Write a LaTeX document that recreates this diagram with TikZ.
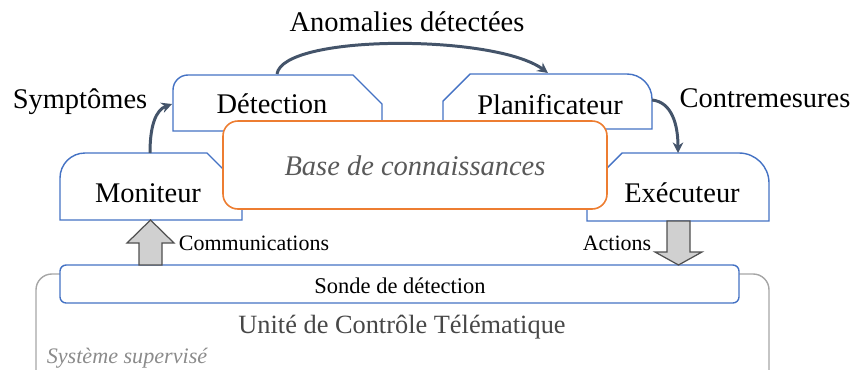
\documentclass[tikz,border=0pt]{standalone}
\usepackage{fontspec}
\setmainfont{Liberation Serif}
\usetikzlibrary{arrows.meta}
\definecolor{bblue}{HTML}{4472C4}
\definecolor{borange}{HTML}{ED7D31}
\definecolor{conn}{HTML}{44546A}
\definecolor{lgray}{HTML}{A6A6A6}
\definecolor{tgray}{HTML}{595959}
\definecolor{afill}{HTML}{D0D0D0}
\definecolor{aline}{HTML}{505050}
\begin{document}
\begin{tikzpicture}[x=0.02cm,y=-0.02cm,
  blk/.style={draw=bblue,line width=0.8pt,fill=white},
  kb/.style={draw=borange,line width=0.9pt,fill=white,rounded corners=8.5pt},
  conn/.style={draw=conn,line width=1.7pt,-{Stealth[length=6pt,width=6pt]}},
  barrow/.style={draw=aline,fill=afill,line width=0.7pt},
  big/.style={inner sep=0pt,anchor=base,font=\fontsize{16.2}{19}\selectfont},
  small/.style={inner sep=0pt,anchor=base,font=\fontsize{12.5}{15}\selectfont}]
\useasboundingbox (0,0) rectangle (852,369);
% outer supervised system box
\begin{scope}
\clip (0,0) rectangle (852,369);
\draw[lgray,line width=0.8pt,rounded corners=9pt] (36,395) -- (36,274) -- (769,274) -- (769,395);
\end{scope}
% Détection
\draw[blk] (173,131) -- (173,90) arc[start angle=180,end angle=270,radius=15] -- (353,75) -- (382,104) -- (382,131) -- cycle;
% Planificateur
\draw[blk] (443,129) -- (443,101) -- (470,74) -- (627,74) arc[start angle=270,end angle=360,radius=25] -- (652,129) -- cycle;
% Moniteur
\draw[blk] (60,220) -- (60,178) arc[start angle=180,end angle=270,radius=25] -- (207,153) -- (242,188) -- (242,220) -- cycle;
% Exécuteur
\draw[blk] (587,221) -- (587,188) -- (622,153) -- (739,153) arc[start angle=270,end angle=360,radius=30] -- (769,221) -- cycle;
% Base de connaissances
\draw[kb] (223,121) rectangle (607,209);
% Sonde de détection
\draw[blk,rounded corners=3.5pt] (60,265) rectangle (739,303);
% block arrows
\draw[barrow] (139,265) -- (139,243) -- (127,243) -- (150.5,220) -- (174,243) -- (162,243) -- (162,265) -- cycle;
\draw[barrow] (667,221) -- (667,252) -- (655,252) -- (678.5,265) -- (702,252) -- (690,252) -- (690,221) -- cycle;
% texts
\node[big] (det) at (272,113) {Détection};
\node[big] (pla) at (550,114) {Planificateur};
\node[big] (mon) at (148,202) {Moniteur};
\node[big] (exe) at (682,202) {Exécuteur};
\node[big,text=tgray,font=\fontsize{16.2}{19}\selectfont\itshape] (kbt) at (415,175) {Base de connaissances};
\node[big] (sym) at (80,108) {Symptômes};
\node[big] (ano) at (407,31) {Anomalies détectées};
\node[big] (ctr) at (765,107) {Contremesures};
\node[inner sep=0pt,anchor=base,font=\fontsize{12.8}{15}\selectfont] (sonde) at (400,293) {Sonde de détection};
\node[inner sep=0pt,anchor=base,font=\fontsize{15}{18}\selectfont,text=tgray!80!black] (ucu) at (402,333) {Unité de Contrôle Télématique};
\node[small] (com) at (254,250) {Communications};
\node[small] (act) at (617,250) {Actions};
\node[small,text=tgray!70,font=\fontsize{12.6}{15}\selectfont\itshape] (sys) at (127,363) {Système supervisé};
% connector endpoints
\coordinate (mon-top) at (150,153);
\coordinate (det-left) at (172,104);
\coordinate (det-top) at (277,74);
\coordinate (pla-top) at (548,73);
\coordinate (pla-right) at (652,100);
\coordinate (exe-top) at (678,153);
\draw[conn] (mon-top) .. controls (150,125) and (156,110) .. (det-left);
\draw[conn] (det-top) .. controls (283,34) and (495,34) .. (pla-top);
\draw[conn] (pla-right) .. controls (672,102) and (678,125) .. (exe-top);
\end{tikzpicture}
\end{document}
